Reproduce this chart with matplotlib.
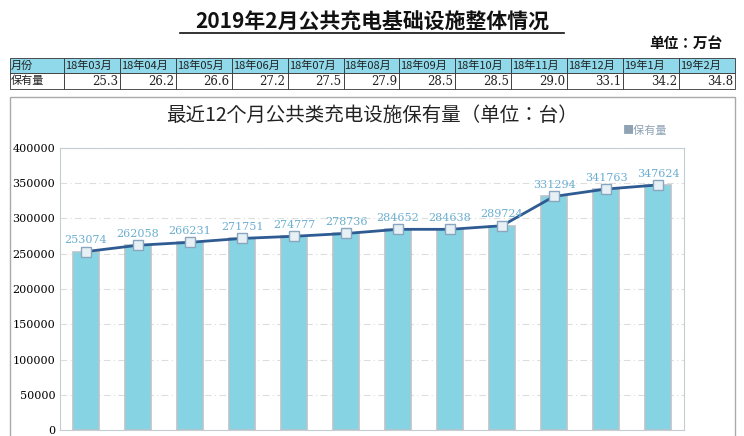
import matplotlib.pyplot as plt
from matplotlib.patches import Rectangle
import numpy as np

plt.rcParams["font.family"] = "sans-serif"
plt.rcParams["font.sans-serif"] = ["Noto Sans CJK SC", "Noto Sans CJK JP",
                                   "Noto Sans CJK TC", "DejaVu Sans"]

W, H = 744, 436
months = ["18年03月", "18年04月", "18年05月", "18年06月", "18年07月", "18年08月",
          "18年09月", "18年10月", "18年11月", "18年12月", "19年1月", "19年2月"]
table_values = ["25.3", "26.2", "26.6", "27.2", "27.5", "27.9",
                "28.5", "28.5", "29.0", "33.1", "34.2", "34.8"]
counts = [253074, 262058, 266231, 271751, 274777, 278736,
          284652, 284638, 289724, 331294, 341763, 347624]

fig = plt.figure(figsize=(W / 100, H / 100), dpi=100)
fig.patch.set_facecolor("white")

def fx(x):
    return x / W

def fy(y):
    return 1 - y / H

# headline
fig.text(fx(372), fy(22), "2019年2月公共充电基础设施整体情况", ha="center", va="center",
         fontsize=15, fontweight="bold", color="#111")
fig.add_artist(plt.Line2D([fx(180), fx(564)], [fy(33), fy(33)], color="#111", lw=1.2))
fig.text(fx(722), fy(43), "单位：万台", ha="right", va="center", fontsize=10.5,
         fontweight="bold", color="#111")

# table
x0, first_w, col_w = 10, 54, 55.9
row_top, row_h = 58, 15.5
for r in range(2):
    y = row_top + r * row_h
    cells = [("月份" if r == 0 else "保有量", x0, first_w)]
    for i in range(12):
        txt = months[i] if r == 0 else table_values[i]
        cells.append((txt, x0 + first_w + i * col_w, col_w))
    for j, (txt, cx, cw) in enumerate(cells):
        fc = "#8fd9ea" if r == 0 else "white"
        fig.add_artist(Rectangle((fx(cx), fy(y + row_h)), cw / W, row_h / H,
                                 transform=fig.transFigure, facecolor=fc,
                                 edgecolor="#333", lw=0.6))
        if r == 1 and j > 0:
            fig.text(fx(cx + cw - 2), fy(y + row_h / 2), txt, ha="right", va="center",
                     fontsize=8.5, family="DejaVu Serif", color="#222")
        else:
            fig.text(fx(cx + 1), fy(y + row_h / 2), txt, ha="left", va="center",
                     fontsize=8, color="#222")

# chart panel (behind the axes)
fig.add_artist(Rectangle((fx(10), fy(440)), 725 / W, 343 / H, transform=fig.transFigure,
                         facecolor="white", edgecolor="#aaa", lw=1, zorder=-1))
fig.text(fx(372), fy(115), "最近12个月公共类充电设施保有量（单位：台）", ha="center",
         va="center", fontsize=14, color="#222")
fig.text(fx(623), fy(131), "■保有量", ha="left", va="center", fontsize=8, color="#8fa3b5")

ax = fig.add_axes([fx(60), fy(430), (684 - 60) / W, (430 - 148) / H])
ax.set_zorder(2)
x = np.arange(len(counts))
ax.bar(x, counts, width=0.5, color="#86d3e3", edgecolor="#b8c4cc", linewidth=1.2)
ax.plot(x, counts, color="#2e5b92", lw=2, marker="s", ms=7,
        mfc="#e6f0f5", mec="#8aa6bf", mew=1)
for xi, v in zip(x, counts):
    ax.text(xi, v + 9000, str(v), ha="center", va="bottom", fontsize=8,
            family="DejaVu Serif", color="#6aaed0")
ax.set_xlim(-0.5, 11.5)
ax.set_ylim(0, 400000)
ax.set_yticks(range(0, 400001, 50000))
ax.set_xticks([])
ax.tick_params(axis="y", length=0, labelsize=8)
for lab in ax.get_yticklabels():
    lab.set_family("DejaVu Serif")
ax.grid(True, axis="y", linestyle=(0, (6, 3, 1, 3)), color="#ddd", lw=0.8)
ax.set_axisbelow(True)
for s in ax.spines.values():
    s.set_color("#c5ccd2")

fig.savefig("out.png", dpi=100)
